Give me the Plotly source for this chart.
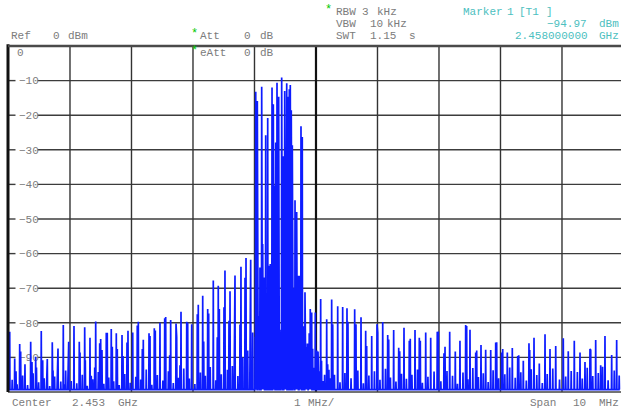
import plotly.graph_objects as go

# ---------------- data (offsets from centre in MHz, levels in dBm) ----------------
CENTER_GHZ = 2.453
SPAN_MHZ = 10
REF_DBM = 0
FLOOR_DBM = -99.3

main_off = [-4.980, -4.899, -4.818, -4.732, -4.639, -4.558, -4.467, -4.369, -4.288, -4.195,
            -4.109, -4.021, -3.935, -3.849, -3.761, -3.675, -3.582, -3.501, -3.410, -3.329,
            -3.247, -3.154, -3.057, -2.980, -2.889, -2.808, -2.715, -2.629, -2.537, -2.444,
            -2.363, -2.276, -2.195, -2.102, -2.021, -1.914, -1.842, -1.761, -1.670, -1.589,
            -1.480, -1.398, -1.317, -1.220, -1.138, -1.062, -0.980, -0.954, -0.883, -0.818,
            -0.785, -0.715, -0.694, -0.678, -0.655, -0.634, -0.607, -0.558, -0.537, -0.509,
            -0.476, -0.460, -0.434, -0.418, -0.402, -0.385, -0.341, -0.314, -0.272, -0.244,
            -0.223, -0.179, -0.093, -0.011, 0.076, 0.174, 0.255, 0.353, 0.434, 0.504,
            0.629, 0.732, 0.808, 0.906, 0.992, 1.085, 1.166, 1.263, 1.345, 1.431,
            1.517, 1.610, 1.680, 1.784, 1.865, 1.972, 2.081, 2.174, 2.265, 2.341,
            2.434, 2.504, 2.597, 2.683, 2.759, 2.841, 2.922, 3.020, 3.111, 3.192,
            3.280, 3.371, 3.463, 3.545, 3.631, 3.724, 3.805, 3.898, 4.021, 4.102,
            4.200, 4.293, 4.374, 4.455, 4.548, 4.629, 4.699, 4.808, 4.889]
main_dbm = [-82.6, -90.3, -86.1, -92.0, -85.5, -89.8, -82.4, -90.5, -85.6, -87.4,
            -80.6, -85.5, -80.9, -85.5, -81.3, -84.3, -79.6, -84.7, -82.9, -81.8,
            -83.0, -83.5, -82.3, -82.8, -79.7, -84.9, -83.0, -81.6, -80.0, -78.3,
            -79.2, -80.2, -76.8, -79.7, -80.4, -74.8, -72.2, -76.0, -67.8, -69.3,
            -64.9, -70.9, -66.3, -63.8, -61.3, -61.8, -13.2, -15.9, -11.8, -25.8,
            -20.8, -12.0, -16.8, -40.3, -27.9, -10.6, -14.7, -9.1, -31.9, -13.0,
            -10.8, -14.7, -12.5, -11.3, -18.6, -28.7, -44.6, -48.0, -66.4, -23.2,
            -26.3, -71.2, -76.0, -77.0, -73.1, -79.0, -73.3, -75.2, -75.4, -75.8,
            -76.1, -78.4, -82.3, -83.8, -80.4, -79.8, -83.5, -82.1, -87.2, -81.4,
            -85.2, -82.1, -84.3, -82.8, -84.3, -82.6, -88.8, -82.6, -88.3, -85.2,
            -80.6, -82.0, -88.6, -86.4, -87.8, -87.9, -85.7, -88.6, -88.6, -87.3,
            -89.6, -91.0, -85.9, -84.3, -91.8, -83.3, -87.6, -86.7, -84.5, -88.2,
            -85.2, -88.6, -91.3, -87.6, -85.0, -92.3, -83.8, -89.3, -85.0]

side_off = [-4.995, -4.878, -4.802, -4.618, -4.545, -4.444, -4.379, -4.276, -4.207, -4.086,
            -4.033, -3.837, -3.751, -3.654, -3.598, -3.517, -3.480, -3.394, -3.312, -3.231,
            -3.138, -3.073, -2.906, -2.824, -2.699, -2.613, -2.460, -2.379, -2.265, -2.211,
            -2.086, -1.930, -1.826, -1.745, -1.605, -1.572, -1.496, -1.415, -1.328, -1.236,
            -1.154, -1.073, -1.029, -0.935, -0.911, -0.867, -0.841, -0.764, -0.743, -0.646,
            -0.585, -0.548, -0.496, -0.450, -0.366, -0.298, -0.207, -0.151, -0.125, -0.070,
            -0.054, 0.011, 0.033, 0.272, 0.520, 0.650, 0.824, 1.003, 1.182, 1.361,
            1.533, 1.696, 1.989, 2.098, 2.450, 2.613, 2.938, 3.036, 3.296, 3.475, 4.467]
side_dbm = [-91.0, -94.0, -88.3, -91.3, -92.9, -90.8, -93.8, -93.8, -89.6, -97.8,
            -89.6, -88.6, -90.8, -95.3, -92.9, -85.9, -87.9, -82.9, -86.9, -87.6,
            -89.6, -85.7, -80.8, -87.6, -83.8, -82.2, -78.7, -89.4, -84.2, -92.3,
            -80.0, -77.5, -85.4, -77.3, -84.2, -76.0, -75.5, -79.4, -66.7, -80.5,
            -67.0, -87.0, -82.8, -78.0, -64.0, -57.2, -66.9, -63.5, -63.0, -70.0,
            -86.7, -70.0, -73.0, -69.0, -70.0, -66.4, -81.0, -87.0, -86.0, -77.0,
            -87.5, -88.0, -88.3, -80.4, -79.7, -80.4, -86.7, -82.8, -84.8, -88.2,
            -84.6, -85.2, -82.5, -86.9, -80.9, -88.0, -85.6, -87.6, -89.4, -87.9, -87.9]

mid_off = [-1.19, -1.11, -1.05, -0.99, -0.96, -0.93, -0.89, -0.85, -0.80, -0.77,
           -0.73, -0.70, -0.67, -0.62, -0.60, -0.57, -0.52, -0.49, -0.44, -0.42,
           -0.39, -0.36, -0.33, -0.29, -0.26, -0.24, -0.20, -0.16, -0.14, -0.11,
           -0.08, -0.03, 0.02, 0.05, 0.09, 0.14, 0.19, 0.23]
mid_dbm = [-90, -88, -92, -84, -95, -86, -82, -90, -88, -93,
           -84, -80, -91, -85, -94, -82, -89, -86, -92, -83,
           -80, -88, -85, -90, -78, -84, -89, -92, -86, -83,
           -88, -93, -90, -94, -91, -95, -92, -96]

low_off = [-4.94, -4.86, -4.77, -4.69, -4.60, -4.51, -4.42, -4.33, -4.25, -4.15,
           -4.07, -3.98, -3.89, -3.80, -3.72, -3.63, -3.54, -3.45, -3.37, -3.29,
           -3.20, -3.11, -3.02, -2.93, -2.85, -2.76, -2.67, -2.58, -2.49, -2.40,
           -2.32, -2.24, -2.15, -2.06, -1.97, -1.88, -1.80, -1.72, -1.63, -1.54,
           -1.44, -1.36, -1.27,
           -0.13, -0.04, 0.04, 0.12, 0.21, 0.30, 0.39, 0.47, 0.57, 0.68,
           0.77, 0.86, 0.95, 1.04, 1.13, 1.21, 1.30, 1.39, 1.47, 1.56,
           1.65, 1.73, 1.82, 1.92, 2.03, 2.13, 2.22, 2.30, 2.39, 2.47,
           2.55, 2.64, 2.72, 2.80, 2.88, 2.97, 3.07, 3.15, 3.24, 3.33,
           3.42, 3.50, 3.59, 3.68, 3.76, 3.85, 3.96, 4.06, 4.15, 4.25,
           4.33, 4.41, 4.50, 4.59, 4.66, 4.75, 4.85, 4.93]
low_dbm = [-96.5, -97.8, -95.2, -98.0, -94.6, -97.2, -96.0, -98.3, -95.5, -97.0,
           -93.8, -96.8, -97.5, -95.0, -98.2, -96.3, -94.2, -97.6, -95.8, -96.9,
           -98.0, -94.8, -97.3, -95.6, -96.4, -93.5, -97.9, -95.1, -96.7, -94.0,
           -97.4, -95.9, -93.2, -96.1, -97.7, -94.4, -95.3, -92.8, -96.6, -94.9,
           -93.6, -92.5, -95.4,
           -93.0, -95.5, -94.2, -96.8, -93.6, -95.0, -97.2, -94.5, -96.0, -93.8,
           -97.5, -95.2, -94.0, -96.5, -93.3, -95.8, -97.0, -94.7, -96.2, -95.0,
           -93.5, -97.3, -95.6, -94.1, -96.9, -93.9, -95.3, -97.6, -94.4, -96.3,
           -93.1, -95.7, -94.6, -97.1, -93.7, -96.0, -94.9, -92.9, -95.9, -94.3,
           -96.7, -93.4, -95.1, -97.4, -94.8, -93.2, -96.4, -95.5, -93.9, -94.2,
           -96.1, -93.0, -95.4, -94.5, -92.7, -96.6, -93.8, -95.2]

marker_off = 5.0          # 2.458 GHz
marker_dbm = -94.97
y_ticks = [-90, -80, -70, -60, -50, -40, -30, -20, -10]

# ---------------- build the trace ----------------
spikes = []
for offs, lv in ((main_off, main_dbm), (side_off, side_dbm), (mid_off, mid_dbm), (low_off, low_dbm)):
    spikes.extend(zip(offs, lv, strict=True))
spikes.sort()
HALF = 0.004
xs, ys = [], []
for f, p in spikes:
    xs += [f - HALF, f, f + HALF]
    ys += [FLOOR_DBM, p, FLOOR_DBM]

W, H = 621, 412
L, R, T, B = 8, 0, 46, 20
PW, PH = W - L - R, H - T - B
PX_PER_MHZ = 61.5
X0 = -5.008
X1 = X0 + PW / PX_PER_MHZ

fig = go.Figure()
fig.add_trace(go.Scatter(x=xs, y=ys, mode="lines",
                         line=dict(color="#0d1cff", width=1.7), hoverinfo="skip"))
fig.add_trace(go.Scatter(x=[marker_off], y=[marker_dbm], mode="markers", cliponaxis=False,
                         marker=dict(symbol="triangle-down", size=7, color="#33b8b8"),
                         hoverinfo="skip"))

MONO = "Liberation Mono"
GRAY = "#7c7c7c"
TEAL = "#4cc0c0"
GREEN = "#00c800"
FS = 11


def px(xp):
    return (xp - L) / PW


def py(yp):
    return (T + PH - yp) / PH


annotations = []


def label(text, x, y, color=GRAY, anchor="left", size=FS):
    annotations.append(dict(text=text, x=px(x), y=py(y), xref="paper", yref="paper",
                            xanchor=anchor, yanchor="middle", showarrow=False, borderpad=0,
                            font=dict(family=MONO, size=size, color=color)))


label("Ref", 10, 36); label("0", 52, 36); label("dBm", 67, 36)
label("*", 190, 34, GREEN, size=12); label("Att", 199, 36); label("0", 243, 36); label("dB", 259, 36)
label("*", 190, 51, GREEN, size=12); label("eAtt", 199, 53); label("0", 243, 53); label("dB", 259, 53)
label("*", 324, 10, GREEN, size=12); label("RBW", 335, 11.5); label("3", 361, 11.5); label("kHz", 376, 11.5)
label("VBW", 335, 24); label("10", 369, 24); label("kHz", 386, 24)
label("SWT", 335, 36.5); label("1.15", 369, 36.5); label("s", 408, 36.5)
label("Marker", 462, 11.5, TEAL); label("1", 506, 11.5, TEAL); label("[T1", 518, 11.5, TEAL); label("]", 545, 11.5, TEAL)
label("−94.97", 588, 24, TEAL, anchor="right"); label("dBm", 620, 24, TEAL, anchor="right")
label(f"{CENTER_GHZ + marker_off / 1000:.9f}", 589, 36.5, TEAL, anchor="right"); label("GHz", 620, 36.5, TEAL, anchor="right")
label(str(REF_DBM), 16, 53)
label("Center", 11, 403); label(f"{CENTER_GHZ:.3f}", 71, 403); label("GHz", 117, 403)
label("1", 293, 403); label("MHz/", 307, 403)
label("Span", 529, 403); label(str(SPAN_MHZ), 572, 403); label("MHz", 620, 403, anchor="right")

shapes = []
# horizontal grid, broken where the level labels sit
gap_a, gap_b = px(15.5), px(37.5)
for v in y_ticks:
    for a, b in ((0, gap_a), (gap_b, 1)):
        shapes.append(dict(type="line", xref="paper", yref="y", x0=a, x1=b, y0=v, y1=v,
                           line=dict(color="#3c3c3c", width=1.4), layer="below"))
# vertical grid
for v in range(-4, 5):
    shapes.append(dict(type="line", xref="x", yref="paper", x0=v, x1=v, y0=0, y1=1,
                       line=dict(color="#111111" if v == 0 else "#333333",
                                 width=2.2 if v == 0 else 1.4), layer="below"))
# frame
shapes.append(dict(type="line", xref="paper", yref="paper", x0=0, x1=0, y0=0, y1=1.005,
                   line=dict(color="#111111", width=3), layer="above"))
shapes.append(dict(type="line", xref="paper", yref="paper", x0=0, x1=1, y0=1, y1=1,
                   line=dict(color="#4a4a4a", width=2.5), layer="above"))
shapes.append(dict(type="line", xref="paper", yref="paper", x0=0, x1=1, y0=0, y1=0,
                   line=dict(color="#444444", width=1.5), layer="below"))

fig.update_layout(
    width=W, height=H, margin=dict(l=L, r=R, t=T, b=B, pad=0),
    paper_bgcolor="white", plot_bgcolor="white", showlegend=False,
    shapes=shapes, annotations=annotations,
    xaxis=dict(range=[X0, X1], showgrid=False, zeroline=False, showticklabels=False,
               ticks="", showline=False, fixedrange=True),
    yaxis=dict(range=[-100, REF_DBM], showgrid=False, zeroline=False, tickvals=y_ticks,
               ticklabelposition="inside", ticks="", showline=False, layer="below traces",
               ticklabelstandoff=8, tickfont=dict(family=MONO, size=11, color=GRAY),
               fixedrange=True),
)
fig.write_html("out.html")
